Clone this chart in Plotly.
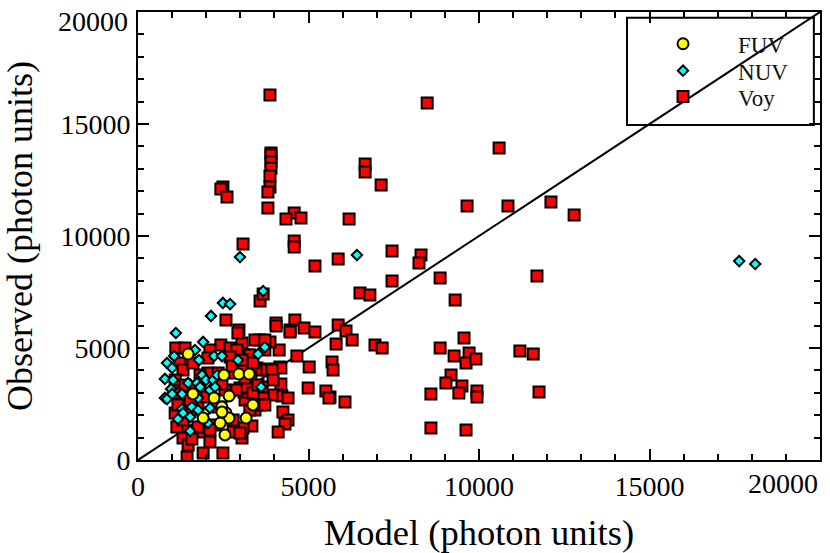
import plotly.graph_objects as go

FONT = "Liberation Serif"

voy_x = [3870, 3900, 3900, 3900, 3900, 3870, 3870, 3810, 3810, 2490, 2430, 2610, 4580, 4780, 4340, 6190, 3080, 4580, 4580, 6660,
         6660, 7130, 7450, 5190, 5870, 7450, 6510, 6800, 3580, 3670, 2580, 2960, 4050, 4050, 4600, 4460, 4870, 5190, 5870, 6100,
         6280, 5810, 6950, 7160, 4140, 4660, 5690, 5720, 5020, 4160, 3050, 2430, 3580, 3870, 3430, 3230, 3490, 3870, 2110, 2700,
         2900, 3720, 8480, 10590, 9650, 10850, 12110, 12790, 8300, 8240, 8860, 11700, 9300, 6070, 5630, 9560, 8860, 9270, 9710, 9620,
         9910, 11200, 11590, 9180, 9030, 9500, 9410, 9940, 9940, 8590, 11760, 8590, 9620, 4990, 5510, 5600, 4190, 4220, 4400, 4250,
         4400, 4310, 4110, 4190, 4460, 3050, 3340, 3080, 3140, 3110, 3490, 3780, 3930, 3960, 3930, 3670, 3430, 2790, 3310, 2990,
         3640, 3280, 1110, 1380, 2930, 3280, 3720, 1230, 1320, 1610, 2050, 2050, 2700, 1170, 1090, 1320, 1320, 1470, 1910, 2110,
         1910, 1440, 2490, 1580, 1760, 2350, 1760, 2790, 2990, 2900, 3200, 3370, 3580, 2790, 1530, 2020, 1140, 1320, 2350, 3080,
         3370, 1090, 2260, 2550, 1820, 1530, 2110, 3520, 3720, 2760, 3050, 1380, 1530, 1170, 2460, 3140]
voy_y = [16290, 13700, 13620, 13300, 13030, 12680, 12190, 11960, 11250, 12190, 12100, 11740, 11030, 10800, 10760, 10760, 9640, 9780, 9510, 13210,
         12860, 12280, 9330, 8660, 8970, 7990, 7450, 7370, 7100, 7410, 6250, 5800, 6120, 5980, 6250, 5800, 5890, 5710, 6030, 5760,
         5360, 5180, 5130, 5000, 4910, 4640, 4370, 4020, 4150, 4150, 5220, 5130, 5360, 5270, 5360, 4690, 4110, 4060, 4910, 5000,
         4910, 4910, 15940, 13930, 11340, 11340, 11520, 10940, 9150, 8790, 8120, 8210, 7140, 2590, 2810, 5450, 5000, 4640, 4780, 4330,
         4510, 4870, 4730, 3790, 3440, 3300, 2990, 3080, 2810, 2950, 3040, 1430, 1340, 3210, 3080, 2770, 3390, 2860, 2770, 2140,
         1790, 1610, 1250, 4110, 5710, 980, 1520, 1430, 2680, 3040, 4020, 4020, 4020, 3570, 2900, 2810, 2230, 1250, 3710, 3210,
         3260, 2230, 5000, 5000, 5670, 4690, 5360, 4330, 4020, 4330, 4550, 3880, 4600, 2990, 2100, 1430, 980, 670, 1250, 800,
         310, 130, 310, 940, 1470, 2370, 2460, 1790, 1210, 3120, 3260, 2990, 2460, 3880, 3260, 2810, 1470, 1790, 3880, 4020,
         4330, 3570, 1560, 3120, 3790, 2230, 1340, 3350, 2460, 4200, 4460, 3350, 2680, 2460, 3390, 3660]

nuv_x = [2990, 6420, 17630, 18100, 3670, 2490, 2700, 2140, 1110, 1910, 1670, 1060, 850, 1000, 1790, 2230, 2460, 2930, 3520, 3720,
         790, 1030, 1470, 1730, 1880, 1990, 2200, 2320, 970, 790, 850, 1290, 1000, 1760, 2110, 1820, 2260, 3610, 1580, 1290,
         1170, 1530, 2110, 2050, 1530, 1760, 1320]
nuv_y = [9060, 9150, 8880, 8750, 7540, 7010, 6960, 6430, 5670, 5270, 4910, 4640, 4330, 4110, 4460, 4640, 4640, 4460, 4730, 5040,
         3620, 3570, 3440, 3440, 3790, 3570, 3570, 3790, 3170, 2770, 2720, 2950, 2950, 2770, 3120, 3260, 3260, 3260, 2370, 2280,
         1830, 1920, 2320, 1650, 1290, 2230, 2100]

fuv_x = [1470, 2520, 2960, 3260, 1610, 2230, 2670, 2460, 2580, 3370, 2670, 1910, 3170, 2410, 2550, 2460]
fuv_y = [4730, 3790, 3840, 3840, 2950, 2770, 2860, 2370, 2100, 2460, 1870, 1870, 1870, 1650, 1120, 2140]

unity = [0, 20000]
major_ticks = [0, 5000, 10000, 15000]

fig = go.Figure()
fig.add_trace(go.Scatter(x=unity, y=unity, mode="lines", line=dict(color="black", width=2), showlegend=False))
fig.add_trace(go.Scatter(x=voy_x, y=voy_y, mode="markers", name="Voy", legend="legend3",
                         marker=dict(symbol="square", size=11, color="#ff0000", line=dict(color="black", width=2))))
fig.add_trace(go.Scatter(x=nuv_x, y=nuv_y, mode="markers", name="NUV", legend="legend2",
                         marker=dict(symbol="diamond", size=8, color="#00ffff", line=dict(color="black", width=2))))
fig.add_trace(go.Scatter(x=fuv_x, y=fuv_y, mode="markers", name="FUV", legend="legend",
                         marker=dict(symbol="circle", size=11, color="#ffff00", line=dict(color="black", width=2))))

axis_style = dict(
    range=[0, 20000], tickvals=major_ticks, tickformat="d", ticks="inside", ticklen=11, tickwidth=2, tickcolor="black",
    minor=dict(dtick=1000, ticks="inside", ticklen=6, tickwidth=2, tickcolor="black", showgrid=False),
    showline=True, linewidth=2, linecolor="black", mirror="allticks", showgrid=False, zeroline=False,
    automargin=False, tickfont=dict(family=FONT, size=28, color="black"),
)


def legend_row(top):
    return dict(x=0.7185, y=top, xanchor="left", yanchor="top", bgcolor="rgba(0,0,0,0)", borderwidth=0,
                itemwidth=100, font=dict(family=FONT, size=23, color="#111111"))


fig.update_layout(
    width=830, height=553, margin=dict(l=138, r=10, t=12, b=93),
    paper_bgcolor="white", plot_bgcolor="white",
    xaxis=dict(title=dict(text="Model (photon units)", font=dict(family=FONT, size=36.5, color="black"), standoff=19), **axis_style),
    yaxis=dict(title=dict(text="Observed (photon units)", font=dict(family=FONT, size=36, color="black"), standoff=38), **axis_style),
    legend=legend_row(0.977),
    legend2=legend_row(0.917),
    legend3=legend_row(0.859),
    shapes=[dict(type="rect", xref="paper", yref="paper", x0=0.717, x1=0.991, y0=0.748, y1=0.987,
                 line=dict(color="black", width=2), fillcolor="white", layer="below")],
    annotations=[
        dict(text="20000", xref="paper", yref="paper", x=1, y=0, xanchor="right", yanchor="top", yshift=-6,
             showarrow=False, font=dict(family=FONT, size=28, color="black")),
        dict(text="20000", xref="paper", yref="paper", x=0, y=1, xanchor="right", yanchor="top", xshift=-8, yshift=8,
             showarrow=False, font=dict(family=FONT, size=28, color="black")),
    ],
)

fig.write_html("out.html", config=dict(displayModeBar=False), post_script="document.body.style.margin = '0';")
